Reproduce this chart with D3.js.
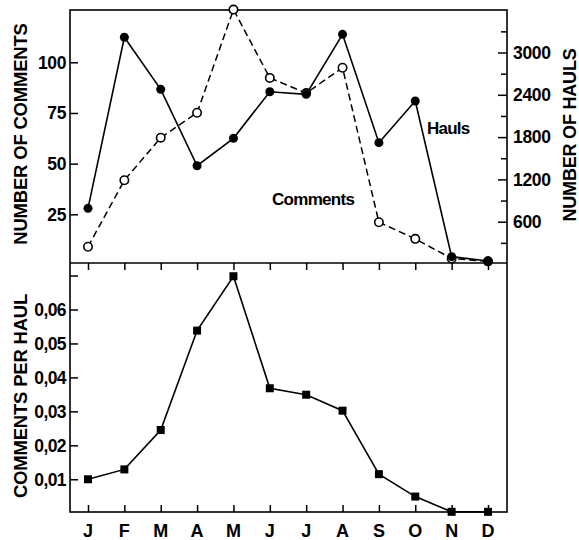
<!DOCTYPE html>
<html><head><meta charset="utf-8">
<script src="https://cdn.jsdelivr.net/npm/d3@7"></script>
<style>
html,body{margin:0;padding:0;background:#fff;}
text{font-family:"Liberation Sans",Arial,sans-serif;font-weight:bold;fill:#000;}
</style></head>
<body>
<svg id="c" width="579" height="540"></svg>
<script>
const months = ["J","F","M","A","M","J","J","A","S","O","N","D"];
const hauls = [790, 3216, 2478, 1394, 1783, 2444, 2407, 3258, 1721, 2312, 104, 43];
const comments = [9.0, 41.8, 62.8, 75.1, 126, 92.3, 84.8, 97.3, 21.1, 12.9, 3.2, 1.8];
const perHaul = [0.0100, 0.0129, 0.0245, 0.0538, 0.0698, 0.0368, 0.0349, 0.0302, 0.0115, 0.0049, 0.0004, 0.0004];
const commentTicks = [25, 50, 75, 100];
const haulTicks = [600, 1200, 1800, 2400, 3000];
const haulMinor = [300, 900, 1500, 2100, 2700, 3300];
const perHaulTicks = [0.01, 0.02, 0.03, 0.04, 0.05, 0.06];
const perHaulMinor = [0.07];

const svg = d3.select("#c");
const L = 70, R = 507, T = 10, MID = 263, B = 512;
const idx = d3.range(months.length);
const x = d3.scalePoint().domain(idx).range([88, 488]);
const yC = d3.scaleLinear().domain([0, 125.8]).range([265, 10]);
const yH = d3.scaleLinear().domain([0, 3603]).range([264, 10]);
const yP = d3.scaleLinear().domain([0, 0.0737]).range([513.2, 263]);

// frames
svg.append("rect").attr("x", L).attr("y", T).attr("width", R - L).attr("height", B - T)
  .attr("fill", "none").attr("stroke", "#000").attr("stroke-width", 1.6);
svg.append("line").attr("x1", L).attr("x2", R).attr("y1", MID).attr("y2", MID)
  .attr("stroke", "#000").attr("stroke-width", 1.6);

// axes
const fmt = d3.format(".2f");
const axL = svg.append("g").attr("transform", `translate(${L},0)`)
  .call(d3.axisRight(yC).tickValues(commentTicks).tickSize(8).tickFormat(""));
const axR = svg.append("g").attr("transform", `translate(${R},0)`)
  .call(d3.axisLeft(yH).tickValues(haulTicks).tickSize(9).tickFormat(""));
const axR2 = svg.append("g").attr("transform", `translate(${R},0)`)
  .call(d3.axisLeft(yH).tickValues(haulMinor).tickSize(6).tickFormat(""));
const axP = svg.append("g").attr("transform", `translate(${L},0)`)
  .call(d3.axisRight(yP).tickValues(perHaulTicks.concat(perHaulMinor)).tickSize(8).tickFormat(""));
const axMid = svg.append("g").attr("transform", `translate(0,${MID})`)
  .call(d3.axisBottom(x).tickSize(7).tickFormat(""));
const axBot = svg.append("g").attr("transform", `translate(0,${B})`)
  .call(d3.axisTop(x).tickSize(7).tickFormat(""));
[axL, axR, axR2, axP, axMid, axBot].forEach(g => {
  g.select(".domain").remove();
  g.selectAll("line").attr("stroke", "#000").attr("stroke-width", 1.5);
});

// tick labels
svg.append("g").selectAll("text").data(commentTicks).join("text")
  .attr("x", 66).attr("y", d => yC(d)).attr("dy", "0.36em").attr("text-anchor", "end")
  .attr("font-size", 17.5).attr("letter-spacing", -0.4).text(d => d);
svg.append("g").selectAll("text").data(haulTicks).join("text")
  .attr("x", 513).attr("y", d => yH(d)).attr("dy", "0.36em").attr("text-anchor", "start")
  .attr("font-size", 17.5).attr("letter-spacing", -0.3).text(d => d);
svg.append("g").selectAll("text").data(perHaulTicks).join("text")
  .attr("x", 66).attr("y", d => yP(d)).attr("dy", "0.36em").attr("text-anchor", "end")
  .attr("font-size", 17.5).attr("letter-spacing", -0.6).text(d => fmt(d).replace(".", ","));
svg.append("g").selectAll("text").data(idx).join("text")
  .attr("x", d => x(d)).attr("y", 537).attr("text-anchor", "middle")
  .attr("font-size", 18).text(d => months[d]);

// axis titles
svg.append("text").attr("transform", "translate(27,134) rotate(-90)")
  .attr("text-anchor", "middle").attr("font-size", 18.5).attr("letter-spacing", -0.2).text("NUMBER OF COMMENTS");
svg.append("text").attr("transform", "translate(27,396) rotate(-90)")
  .attr("text-anchor", "middle").attr("font-size", 18.5).attr("letter-spacing", -0.2).text("COMMENTS PER HAUL");
svg.append("text").attr("transform", "translate(576,135) rotate(-90)")
  .attr("text-anchor", "middle").attr("font-size", 18).attr("letter-spacing", -0.2).text("NUMBER OF HAULS");

// series labels
svg.append("text").attr("x", 427).attr("y", 134).attr("font-size", 17).attr("letter-spacing", -0.8).text("Hauls");
svg.append("text").attr("x", 272).attr("y", 205).attr("font-size", 17).attr("letter-spacing", -0.7).text("Comments");

// comments line (dashed)
svg.append("path").datum(idx)
  .attr("d", d3.line().x(i => x(i)).y(i => yC(comments[i])))
  .attr("fill", "none").attr("stroke", "#000").attr("stroke-width", 1.5).attr("stroke-dasharray", "7,4");
// hauls line (solid)
svg.append("path").datum(idx)
  .attr("d", d3.line().x(i => x(i)).y(i => yH(hauls[i])))
  .attr("fill", "none").attr("stroke", "#000").attr("stroke-width", 1.6);
svg.append("g").selectAll("circle").data(idx).join("circle")
  .attr("cx", i => x(i)).attr("cy", i => yC(comments[i])).attr("r", 4.2)
  .attr("fill", "#fff").attr("stroke", "#000").attr("stroke-width", 1.6);
svg.append("g").selectAll("circle").data(idx).join("circle")
  .attr("cx", i => x(i)).attr("cy", i => yH(hauls[i])).attr("r", 4.5).attr("fill", "#000");

// per haul
svg.append("path").datum(idx)
  .attr("d", d3.line().x(i => x(i)).y(i => yP(perHaul[i])))
  .attr("fill", "none").attr("stroke", "#000").attr("stroke-width", 1.6);
svg.append("g").selectAll("rect").data(idx).join("rect")
  .attr("x", i => x(i) - 4).attr("y", i => yP(perHaul[i]) - 4).attr("width", 8).attr("height", 8).attr("fill", "#000");
</script>
</body></html>
